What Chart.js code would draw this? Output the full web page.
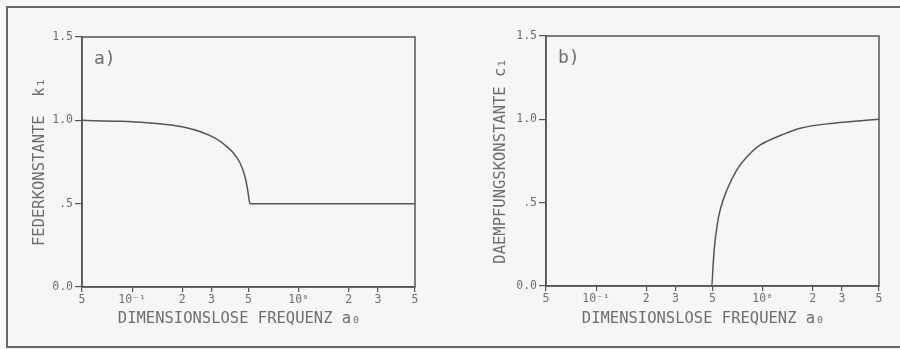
<!DOCTYPE html>
<html>
<head>
<meta charset="utf-8">
<script src="https://cdn.jsdelivr.net/npm/chart.js@4.4.1/dist/chart.umd.min.js"></script>
<style>
  html, body { margin: 0; padding: 0; background: #f6f6f4; }
  #wrap { position: relative; width: 900px; height: 349px; overflow: hidden; }
  #frame { position: absolute; left: 6px; top: 6px; width: 910px; height: 338px;
           border-top: 2px solid #666; border-left: 2px solid #666; border-bottom: 2px solid #666; }
  .box { position: absolute; top: 0; width: 450px; height: 349px; }
</style>
</head>
<body>
<div id="wrap">
  <div id="frame"></div>
  <div class="box" style="left:0"><canvas id="ca" width="450" height="349"></canvas></div>
  <div class="box" style="left:450px"><canvas id="cb" width="450" height="349"></canvas></div>
</div>
<script>
// ---- data ----
const xTickValues = [0.05, 0.1, 0.2, 0.3, 0.5, 1, 2, 3, 5];
const xTickLabels = ["5", "10⁻¹", "2", "3", "5", "10⁰", "2", "3", "5"];
const yTickValues = [0, 0.5, 1.0, 1.5];
const yTickLabels = ["0.0", ".5", "1.0", "1.5"];

const freqA = [0.05, 0.085, 0.122, 0.16, 0.203, 0.26, 0.315, 0.361, 0.405, 0.445, 0.476, 0.494, 0.506, 0.51, 1.0, 2.0, 5.0];
const k1Values = [1.0, 0.994, 0.986, 0.975, 0.960, 0.930, 0.893, 0.852, 0.805, 0.744, 0.663, 0.584, 0.514, 0.50, 0.50, 0.50, 0.50];

const freqB = [0.05, 0.495, 0.504, 0.512, 0.532, 0.557, 0.611, 0.70, 0.843, 0.968, 1.062, 1.3, 1.683, 2.67, 5.0];
const c1Values = [0, 0, 0.12, 0.22, 0.36, 0.46, 0.577, 0.697, 0.797, 0.847, 0.868, 0.906, 0.947, 0.977, 1.0];

// ---- styling ----
const INK = '#555';
const TXT = '#6e6e6e';
const MONO = '"DejaVu Sans Mono", "Liberation Mono", monospace';

const boxPlugin = {
  id: 'boxAndLabel',
  afterDraw(chart, args, opts) {
    const {ctx, chartArea: a} = chart;
    ctx.save();
    ctx.strokeStyle = INK;
    ctx.lineWidth = 1.5;
    ctx.strokeRect(a.left, a.top, a.right - a.left, a.bottom - a.top);
    ctx.fillStyle = TXT;
    ctx.font = '18px ' + MONO;
    ctx.textBaseline = 'middle';
    ctx.fillText(opts.text, a.left + 12, a.top + 22);
    ctx.restore();
  }
};

function makeChart(id, xs, ys, yTitle, geom) {
  return new Chart(document.getElementById(id), {
    type: 'scatter',
    data: {
      datasets: [{
        data: xs.map((x, i) => ({x: x, y: ys[i]})),
        showLine: true,
        borderColor: INK,
        borderWidth: 1.5,
        pointRadius: 0,
        cubicInterpolationMode: 'monotone',
        fill: false
      }]
    },
    options: {
      responsive: false,
      animation: false,
      events: [],
      layout: { padding: { left: 0, right: geom.padRight, top: geom.padTop, bottom: 0 } },
      plugins: {
        legend: { display: false },
        tooltip: { enabled: false },
        boxAndLabel: { text: geom.label }
      },
      scales: {
        x: {
          type: 'logarithmic',
          min: 0.05, max: 5,
          afterBuildTicks: s => { s.ticks = xTickValues.map(v => ({value: v})); },
          afterFit: s => { s.height = geom.xHeight; },
          ticks: {
            autoSkip: false, maxRotation: 0, minRotation: 0,
            color: TXT, padding: 1,
            font: { family: MONO, size: 11.5 },
            callback: (v, i) => xTickLabels[i]
          },
          grid: { display: true, drawOnChartArea: false, drawTicks: true, tickLength: 5, color: INK, lineWidth: 1.2 },
          border: { display: true, color: INK, width: 1.5 },
          title: {
            display: true, text: 'DIMENSIONSLOSE FREQUENZ a₀  ',
            color: TXT, font: { family: MONO, size: 15.5 },
            padding: { top: 0, bottom: 21 }
          }
        },
        y: {
          min: 0, max: 1.5,
          afterBuildTicks: s => { s.ticks = yTickValues.map(v => ({value: v})); },
          afterFit: s => { s.width = geom.yWidth; },
          ticks: {
            color: TXT, padding: 2,
            font: { family: MONO, size: 11.5 },
            callback: (v, i) => yTickLabels[i]
          },
          grid: { display: true, drawOnChartArea: false, drawTicks: true, tickLength: 7, color: INK, lineWidth: 1.2 },
          border: { display: true, color: INK, width: 1.5 },
          title: {
            display: true, text: yTitle,
            color: TXT, font: { family: MONO, size: 15.5 },
            padding: { top: geom.yTitlePad, bottom: 0 }
          }
        }
      }
    },
    plugins: [boxPlugin]
  });
}

makeChart('ca', freqA, k1Values, 'FEDERKONSTANTE  k₁',
  { padRight: 35, padTop: 37, xHeight: 62, yWidth: 82, yTitlePad: 31, label: 'a)' });
makeChart('cb', freqB, c1Values, 'DAEMPFUNGSKONSTANTE c₁',
  { padRight: 21, padTop: 36, xHeight: 63, yWidth: 96, yTitlePad: 42, label: 'b)' });
</script>
</body>
</html>
